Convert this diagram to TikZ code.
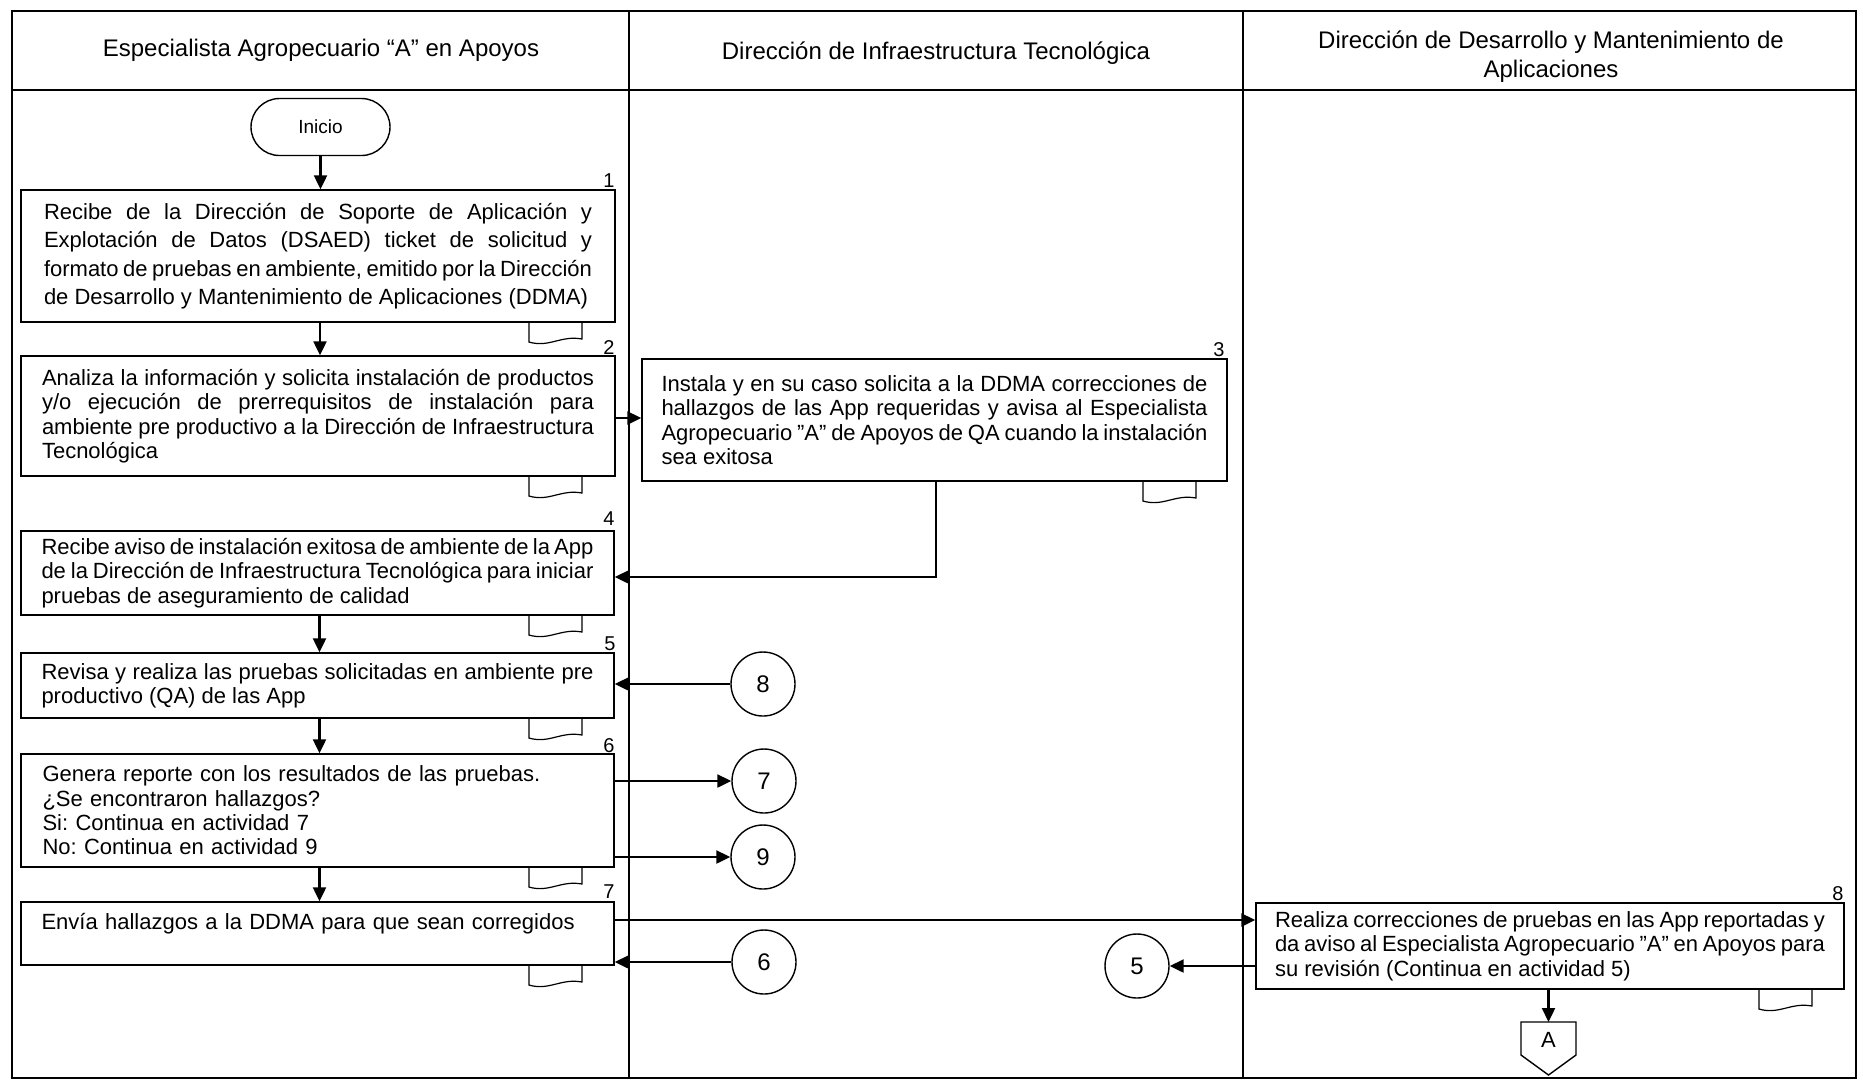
\documentclass[tikz,border=0pt]{standalone}
\usepackage{fontspec}
\setmainfont{Liberation Sans}
\usetikzlibrary{arrows.meta,shapes.misc}
\newcommand\docmark[2]{\draw[docline] (#1,#2) -- (#1,#2+20) .. controls (#1+20,#2+26) and (#1+32,#2+13) .. (#1+53,#2+17) -- (#1+53,#2);}
\newcommand\sq{\char"0022\relax}
\begin{document}
\frenchspacing
\begin{tikzpicture}[x=0.5pt,y=-0.5pt,
  frame/.style={line width=0.8pt},
  box/.style={draw, line width=0.7pt, inner sep=0pt, align=justify, fill=white,
    font=\fontsize{11}{12.2}\selectfont},
  hdr/.style={align=center, font=\fontsize{12}{14.5}\selectfont},
  num/.style={font=\fontsize{10}{12}\selectfont, inner sep=0pt},
  circ/.style={draw, circle, line width=0.7pt, minimum size=32pt, inner sep=0pt, font=\fontsize{12}{14}\selectfont},
  term/.style={draw, rounded rectangle, line width=0.7pt, minimum width=69.5pt, minimum height=28.5pt, inner sep=0pt, font=\fontsize{9.5}{11}\selectfont},
  conn/.style={line width=1.1pt, -{Triangle[length=7pt,width=6.5pt]}},
  docline/.style={line width=0.6pt}
]
\useasboundingbox (0,0) rectangle (1863,1084);
% frame
\draw[frame] (12,11) rectangle (1856,1078);
\draw[frame] (12,90) -- (1856,90);
\draw[frame] (629,11) -- (629,1078);
\draw[frame] (1243,11) -- (1243,1078);
% headers
\node[hdr] (h1) at (321,50) {Especialista Agropecuario “A” en Apoyos};
\node[hdr] (h2) at (936,53) {Dirección de Infraestructura Tecnológica};
\node[hdr] (h3) at (1551,57) {Dirección de Desarrollo y Mantenimiento de\\Aplicaciones};
% start
\node[term] (ini) at (320.5,127) {Inicio};
% boxes
\node[box, minimum width=297pt, minimum height=66pt, text width=274pt,
  font=\fontsize{11}{14.2}\selectfont] (b1) at (318,256)
  {Recibe de la Dirección de Soporte de Aplicación y\linebreak Explotación de Datos (DSAED) ticket de solicitud y\linebreak formato de pruebas en ambiente, emitido por la Dirección\linebreak de Desarrollo y Mantenimiento de Aplicaciones (DDMA)};
\node[box, minimum width=297pt, minimum height=60pt, text width=276pt] (b2) at (318,416)
  {Analiza la información y solicita instalación de productos\linebreak y/o ejecución de prerrequisitos de instalación para\linebreak ambiente pre productivo a la Dirección de Infraestructura\linebreak Tecnológica};
\node[box, minimum width=292.5pt, minimum height=61pt, text width=273pt] (b3) at (934.5,420)
  {Instala y en su caso solicita a la DDMA correcciones de\linebreak hallazgos de las App requeridas y avisa al Especialista\linebreak Agropecuario \sq A\sq{} de Apoyos de QA cuando la instalación\linebreak sea exitosa};
\node[box, minimum width=296.5pt, minimum height=42pt, text width=276pt] (b4) at (317.5,573)
  {Recibe aviso de instalación exitosa de ambiente de la App\linebreak de la Dirección de Infraestructura Tecnológica para iniciar\linebreak pruebas de aseguramiento de calidad};
\node[box, minimum width=296.5pt, minimum height=32.5pt, text width=276pt] (b5) at (317.5,685.5)
  {Revisa y realiza las pruebas solicitadas en ambiente pre\linebreak productivo (QA) de las App};
\node[box, minimum width=296.5pt, minimum height=56.5pt, text width=275pt, align=left] (b6) at (317.5,810.5)
  {Genera reporte con los resultados de las pruebas.\\¿Se encontraron hallazgos?\\Si: Continua en actividad 7\\No: Continua en actividad 9};
\node[box, minimum width=296.5pt, minimum height=31.5pt, text width=276pt, align=left] (b7) at (317.5,933.5)
  {Envía hallazgos a la DDMA para que sean corregidos\\\mbox{}};
\node[box, minimum width=294pt, minimum height=43pt, text width=275pt] (b8) at (1550,946)
  {Realiza correcciones de pruebas en las App reportadas y\linebreak da aviso al Especialista Agropecuario \sq A\sq{} en Apoyos para\linebreak su revisión (Continua en actividad 5)};
% numbers
\node[num] (n1) at (609,181) {1};
\node[num] (n2) at (609,348) {2};
\node[num] (n3) at (1219,350) {3};
\node[num] (n4) at (609,519) {4};
\node[num] (n5) at (610,644) {5};
\node[num] (n6) at (609,746) {6};
\node[num] (n7) at (609,892) {7};
\node[num] (n8) at (1838,894) {8};
% document marks
\docmark{529}{322}
\docmark{529}{476}
\docmark{1143}{481}
\docmark{529}{615}
\docmark{529}{718}
\docmark{529}{867}
\docmark{529}{965}
\docmark{1759}{989}
% connectors (circles)
\node[circ] (c8) at (763,684) {8};
\node[circ] (c7) at (764,781) {7};
\node[circ] (c9) at (763,857) {9};
\node[circ] (c6) at (764,962) {6};
\node[circ] (c5) at (1137,966) {5};
% off-page connector
\node[inner sep=0pt, font=\fontsize{11}{13}\selectfont] (offA) at (1548.5,1040) {A};
\draw[line width=0.7pt] (1521,1022) -- (1576,1022) -- (1576,1055) -- (1548.5,1075) -- (1521,1055) -- cycle;
% flows
\draw[conn] (ini.south) -- (ini.south |- b1.north);
\draw[conn] ([xshift=1pt]b1.south) -- ([xshift=1pt]b1.south |- b2.north);
\draw[conn] ([yshift=-1pt]b2.east) -- ([yshift=-1pt]b2.east -| b3.west);
\draw[conn] ([xshift=0.75pt]b3.south) |- ([yshift=-2pt]b4.east);
\draw[conn] ([xshift=1pt]b4.south) -- ([xshift=1pt]b4.south |- b5.north);
\draw[conn] (c8.west) -- (c8.west -| b5.east);
\draw[conn] ([xshift=1pt]b5.south) -- ([xshift=1pt]b5.south |- b6.north);
\draw[conn] (c7.west -| b6.east) -- (c7.west);
\draw[conn] (c9.west -| b6.east) -- (c9.west);
\draw[conn] ([xshift=1pt]b6.south) -- ([xshift=1pt]b6.south |- b7.north);
\draw[conn] ([yshift=6.75pt]b7.east) -- ([yshift=6.75pt]b7.east -| b8.west);
\draw[conn] (c6.west) -- (c6.west -| b7.east);
\draw[conn] (b8.west |- c5.east) -- (c5.east);
\draw[conn] (offA.north |- b8.south) -- (1548.5,1022);
\end{tikzpicture}
\end{document}
